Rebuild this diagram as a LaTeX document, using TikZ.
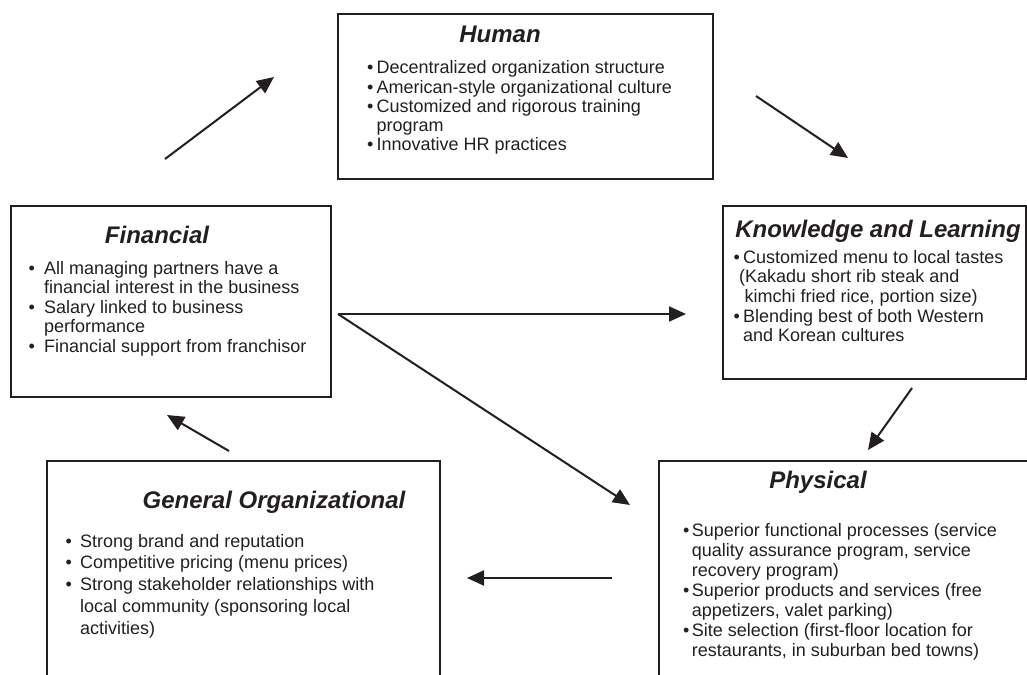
\documentclass[tikz,border=0pt]{standalone}
\usepackage{fontspec}
\setmainfont{Liberation Sans}
\usetikzlibrary{arrows.meta}
\definecolor{ink}{HTML}{231F20}
\newcommand\blist[3]{{\fontsize{18}{#1}\selectfont\begin{tabular}[t]{@{}p{#2}@{}l@{}}#3\end{tabular}}}
\begin{document}
\begin{tikzpicture}[x=1pt,y=-1pt,
  box/.style={draw=ink,line width=1.8pt,rectangle,inner sep=0pt,anchor=north west},
  ttl/.style={text=ink,inner sep=0pt,anchor=base,font=\fontsize{24}{28}\selectfont\bfseries\itshape},
  body/.style={text=ink,inner sep=0pt,anchor=base west},
  arr/.style={draw=ink,line width=2pt,-{Triangle[length=17pt,width=15pt]}}]
\useasboundingbox (0,0) rectangle (1027,674);
\clip (0,0) rectangle (1027,674);
% boxes
\node[box,minimum width=375pt,minimum height=165pt] (human) at (337,13) {};
\node[box,minimum width=320pt,minimum height=191pt] (fin) at (10,205) {};
\node[box,minimum width=303pt,minimum height=173pt] (know) at (722,205) {};
\node[box,minimum width=400pt,minimum height=260pt] (phys) at (658,460) {};
\node[box,minimum width=393pt,minimum height=260pt] (gen) at (46,460) {};
% titles
\node[ttl] (humanT) at (500,43) {Human};
\node[ttl] (finT) at (157,243) {Financial};
\node[ttl] (knowT) at (878,237) {Knowledge and Learning};
\node[ttl] (physT) at (818,488) {Physical};
\node[ttl] (genT) at (274,508) {General Organizational};
% bodies
\node[body] (humanB) at (367,74) {\blist{19.2pt}{9.5pt}{%
\textbullet & Decentralized organization structure\\
\textbullet & American-style organizational culture\\
\textbullet & Customized and rigorous training\\
 & program\\
\textbullet & Innovative HR practices}};
\node[body] (finB) at (28.5,274) {\blist{19.6pt}{15.5pt}{%
\textbullet & All managing partners have a\\
 & financial interest in the business\\
\textbullet & Salary linked to business\\
 & performance\\
\textbullet & Financial support from franchisor}};
\node[body] (knowB) at (733.5,263) {\blist{19.7pt}{9.5pt}{%
\textbullet & Customized menu to local tastes\\
 & \hspace*{-4pt}(Kakadu short rib steak and\\
 & \hspace*{1.5pt}kimchi fried rice, portion size)\\
\textbullet & Blending best of both Western\\
 & and Korean cultures}};
\node[body] (physB) at (683,536) {\blist{20pt}{8.7pt}{%
\textbullet & Superior functional processes (service\\
 & quality assurance program, service\\
 & recovery program)\\
\textbullet & Superior products and services (free\\
 & appetizers, valet parking)\\
\textbullet & Site selection (first-floor location for\\
 & restaurants, in suburban bed towns)}};
\node[body] (genB) at (65.5,547) {\blist{21.9pt}{14.5pt}{%
\textbullet & Strong brand and reputation\\
\textbullet & Competitive pricing (menu prices)\\
\textbullet & Strong stakeholder relationships with\\
 & local community (sponsoring local\\
 & activities)}};
% arrow end points
\coordinate (a1s) at (229,451); \coordinate (a1e) at (167,415);
\coordinate (a2s) at (165,159); \coordinate (a2e) at (274,77);
\coordinate (a3s) at (756,96);  \coordinate (a3e) at (848,158);
\coordinate (a4s) at (338,314); \coordinate (a4e) at (686,314);
\coordinate (a5e) at (630,505);
\coordinate (a6s) at (912,388); \coordinate (a6e) at (868,450);
\coordinate (a7s) at (612,578); \coordinate (a7e) at (467,578);
\draw[arr] (a1s) -- (a1e);
\draw[arr] (a2s) -- (a2e);
\draw[arr] (a3s) -- (a3e);
\draw[arr] (a4s) -- (a4e);
\draw[arr] (a4s) -- (a5e);
\draw[arr] (a6s) -- (a6e);
\draw[arr] (a7s) -- (a7e);
\end{tikzpicture}
\end{document}
